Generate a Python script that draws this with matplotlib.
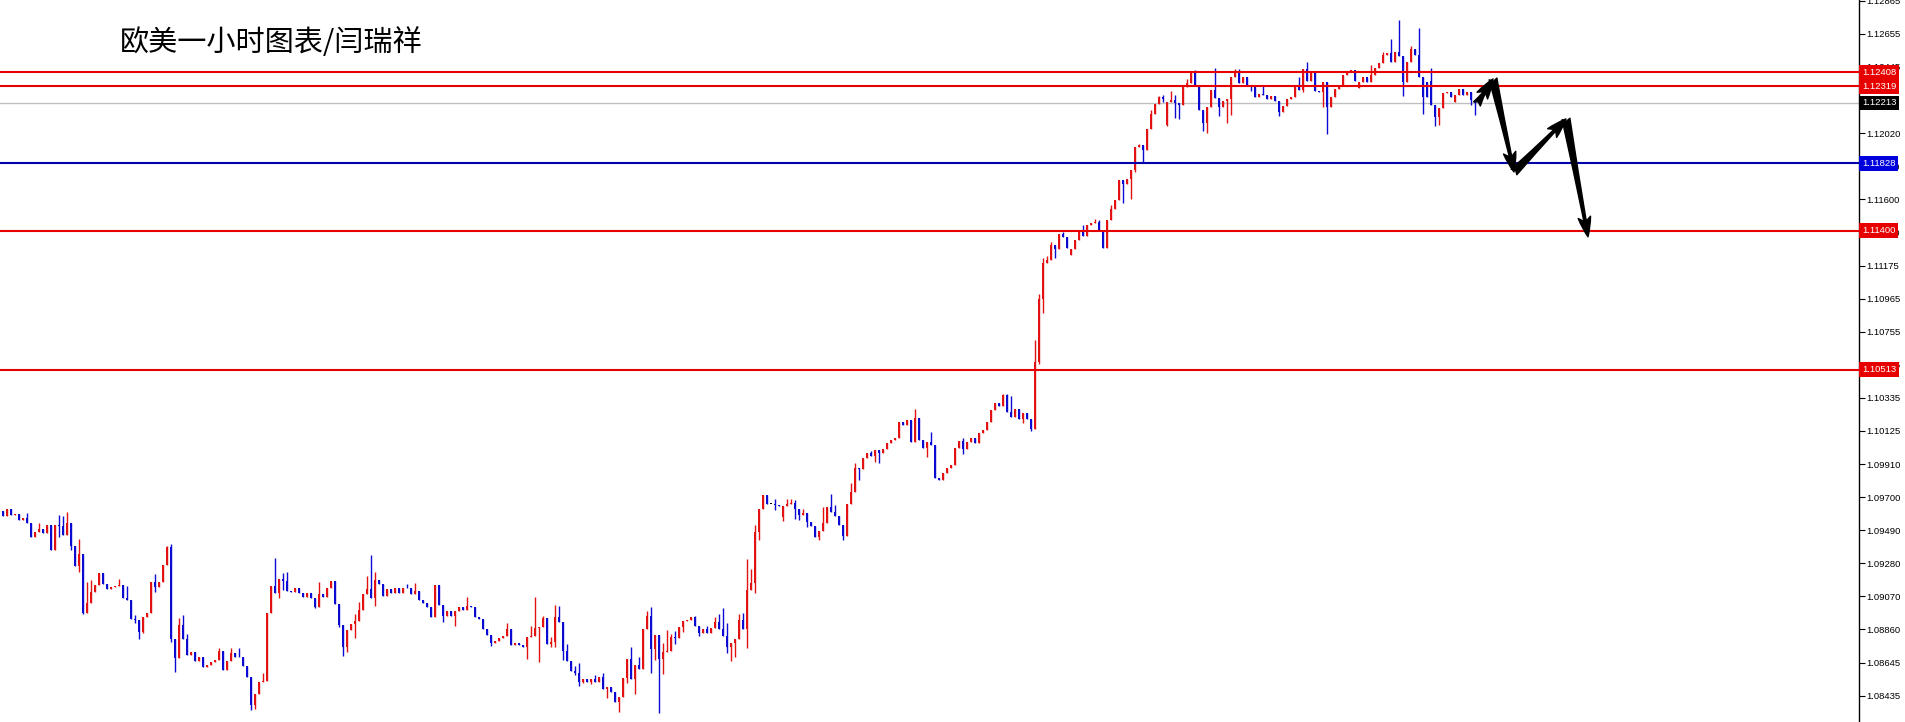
import numpy as np
import matplotlib
matplotlib.use('Agg')
import matplotlib.pyplot as plt

plt.rcParams['font.family'] = ['Noto Sans CJK SC', 'DejaVu Sans']

title = '欧美一小时图表/闫瑞祥'

# EURUSD H1 closes (oldest first)
first_open = 1.09614
closes = [
    1.09580, 1.09625, 1.09587, 1.09591, 1.09555, 1.09570, 1.09533, 1.09448, 1.09480, 1.09495,
    1.09474, 1.09525, 1.09364, 1.09523, 1.09516, 1.09459, 1.09534, 1.09389, 1.09262, 1.09338,
    1.08964, 1.09024, 1.09098, 1.09140, 1.09219, 1.09147, 1.09113, 1.09126, 1.09134, 1.09143,
    1.09060, 1.09045, 1.08922, 1.08917, 1.08843, 1.08934, 1.08964, 1.09162, 1.09126, 1.09162,
    1.09268, 1.09381, 1.08798, 1.08677, 1.08885, 1.08794, 1.08694, 1.08715, 1.08658, 1.08684,
    1.08620, 1.08633, 1.08652, 1.08662, 1.08718, 1.08599, 1.08654, 1.08709, 1.08684, 1.08680,
    1.08624, 1.08556, 1.08375, 1.08446, 1.08524, 1.08528, 1.08964, 1.09134, 1.09092, 1.09177,
    1.09169, 1.09105, 1.09099, 1.09120, 1.09092, 1.09063, 1.09092, 1.09060, 1.09003, 1.09084,
    1.09063, 1.09120, 1.09169, 1.09020, 1.08886, 1.08744, 1.08854, 1.08893, 1.08912, 1.08982,
    1.09084, 1.09113, 1.09056, 1.09173, 1.09145, 1.09073, 1.09113, 1.09088, 1.09124, 1.09088,
    1.09122, 1.09119, 1.09084, 1.09105, 1.09046, 1.09028, 1.08999, 1.08935, 1.09141, 1.09014,
    1.08944, 1.08978, 1.08944, 1.08978, 1.08999, 1.08982, 1.09007, 1.08999, 1.08935, 1.08922,
    1.08858, 1.08822, 1.08773, 1.08784, 1.08801, 1.08818, 1.08859, 1.08759, 1.08774, 1.08759,
    1.08748, 1.08808, 1.08818, 1.08865, 1.08871, 1.08929, 1.08765, 1.08779, 1.08939, 1.08907,
    1.08722, 1.08658, 1.08595, 1.08582, 1.08524, 1.08541, 1.08524, 1.08541, 1.08524, 1.08552,
    1.08478, 1.08488, 1.08457, 1.08393, 1.08425, 1.08546, 1.08667, 1.08541, 1.08631, 1.08605,
    1.08860, 1.08943, 1.08731, 1.08822, 1.08669, 1.08716, 1.08722, 1.08811, 1.08801, 1.08875,
    1.08913, 1.08920, 1.08935, 1.08881, 1.08837, 1.08860, 1.08837, 1.08865, 1.08907, 1.08858,
    1.08818, 1.08748, 1.08773, 1.08794, 1.08918, 1.08860, 1.09109, 1.09151, 1.09481, 1.09623,
    1.09714, 1.09657, 1.09657, 1.09651, 1.09644, 1.09644, 1.09657, 1.09666, 1.09623, 1.09587,
    1.09598, 1.09544, 1.09517, 1.09449, 1.09487, 1.09534, 1.09640, 1.09608, 1.09581, 1.09523,
    1.09455, 1.09657, 1.09736, 1.09884, 1.09878, 1.09948, 1.09980, 1.09963, 1.10001, 1.09984,
    1.10006, 1.10044, 1.10065, 1.10080, 1.10181, 1.10160, 1.10192, 1.10054, 1.10207, 1.10064,
    1.10011, 1.10054, 1.10032, 1.09826, 1.09809, 1.09856, 1.09884, 1.09905, 1.10015, 1.10060,
    1.10005, 1.10054, 1.10075, 1.10043, 1.10107, 1.10128, 1.10181, 1.10256, 1.10304, 1.10281,
    1.10351, 1.10245, 1.10213, 1.10260, 1.10202, 1.10234, 1.10202, 1.10132, 1.10564, 1.10961,
    1.11195, 1.11210, 1.11308, 1.11281, 1.11378, 1.11357, 1.11287, 1.11281, 1.11340, 1.11400,
    1.11366, 1.11436, 1.11451, 1.11457, 1.11400, 1.11287, 1.11467, 1.11536, 1.11595, 1.11723,
    1.11697, 1.11727, 1.11786, 1.11931, 1.11946, 1.11910, 1.12046, 1.12143, 1.12207, 1.12250,
    1.12237, 1.12222, 1.12233, 1.12211, 1.12200, 1.12313, 1.12343, 1.12407, 1.12318, 1.12169,
    1.12084, 1.12190, 1.12296, 1.12243, 1.12186, 1.12228, 1.12237, 1.12377, 1.12413, 1.12339,
    1.12377, 1.12322, 1.12312, 1.12250, 1.12271, 1.12264, 1.12237, 1.12258, 1.12228, 1.12158,
    1.12194, 1.12241, 1.12249, 1.12317, 1.12296, 1.12428, 1.12356, 1.12419, 1.12290, 1.12285,
    1.12349, 1.12190, 1.12249, 1.12300, 1.12328, 1.12392, 1.12413, 1.12424, 1.12353, 1.12349,
    1.12381, 1.12349, 1.12392, 1.12434, 1.12466, 1.12519, 1.12530, 1.12477, 1.12540, 1.12513,
    1.12349, 1.12477, 1.12555, 1.12519, 1.12381, 1.12249, 1.12253, 1.12200, 1.12126, 1.12179,
    1.12275, 1.12285, 1.12253, 1.12264, 1.12300, 1.12264, 1.12285, 1.12232, 1.12213,
]

# bars whose open is not the previous close
gap_opens = {195: 1.09572, 267: 1.11245, 291: 1.12073, 339: 1.12306,
             356: 1.12349, 357: 1.12355, 363: 1.12222}

# visible wicks
highs = {6: 1.09602, 9: 1.09534, 14: 1.09587, 15: 1.09580, 16: 1.09608, 19: 1.09431,
         21: 1.09162, 22: 1.09172, 29: 1.09177, 31: 1.09134, 33: 1.08949, 38: 1.09210,
         41: 1.09391, 42: 1.09400, 44: 1.08928, 45: 1.08953, 46: 1.08826, 54: 1.08737,
         57: 1.08741, 59: 1.08737, 65: 1.08582, 68: 1.09310, 70: 1.09216, 71: 1.09222,
         79: 1.09162, 88: 1.08956, 89: 1.09035, 91: 1.09199, 92: 1.09332, 93: 1.09222,
         101: 1.09145, 103: 1.09156, 116: 1.09067, 126: 1.08897, 132: 1.08880, 133: 1.09067,
         135: 1.08944, 137: 1.08811, 138: 1.09013, 139: 1.09007, 141: 1.08765, 143: 1.08626,
         144: 1.08646, 148: 1.08567, 150: 1.08578, 157: 1.08748, 159: 1.08684, 161: 1.08975,
         162: 1.09003, 165: 1.08769, 166: 1.08854, 167: 1.08828, 168: 1.08847, 173: 1.08943,
         176: 1.08881, 178: 1.08939, 179: 1.08954, 180: 1.08996, 181: 1.08901, 184: 1.08954,
         185: 1.08960, 186: 1.09304, 187: 1.09241, 188: 1.09523, 193: 1.09687, 196: 1.09687,
         197: 1.09687, 198: 1.09683, 200: 1.09623, 205: 1.09640, 207: 1.09721, 208: 1.09651,
         212: 1.09789, 213: 1.09916, 217: 1.09997, 228: 1.10262, 232: 1.10117, 240: 1.10075,
         250: 1.10358, 251: 1.10358, 252: 1.10347, 258: 1.10702, 259: 1.10995, 260: 1.11222,
         261: 1.11237, 262: 1.11329, 265: 1.11393, 270: 1.11436, 273: 1.11472, 274: 1.11468,
         277: 1.11563, 284: 1.11952, 287: 1.12169, 289: 1.12258, 290: 1.12264, 292: 1.12286,
         293: 1.12264, 296: 1.12364, 297: 1.12413, 298: 1.12420, 303: 1.12434, 308: 1.12428,
         309: 1.12428, 315: 1.12318, 324: 1.12381, 326: 1.12477, 342: 1.12455, 345: 1.12540,
         347: 1.12619, 349: 1.12742, 352: 1.12576, 354: 1.12689, 357: 1.12434}
lows = {14: 1.09448, 17: 1.09364, 19: 1.09225, 20: 1.08956, 21: 1.08960, 33: 1.08896,
        34: 1.08800, 35: 1.08832, 38: 1.09098, 42: 1.08779, 43: 1.08588, 62: 1.08344,
        63: 1.08348, 69: 1.09056, 70: 1.09109, 78: 1.08992, 84: 1.08871, 85: 1.08691,
        86: 1.08716, 88: 1.08801, 93: 1.09007, 110: 1.08907, 113: 1.08882, 122: 1.08752,
        131: 1.08667, 134: 1.08652, 137: 1.08748, 138: 1.08748, 140: 1.08663, 143: 1.08567,
        144: 1.08497, 145: 1.08514, 147: 1.08510, 151: 1.08418, 154: 1.08329, 156: 1.08514,
        158: 1.08444, 162: 1.08578, 163: 1.08663, 164: 1.08327, 165: 1.08571, 168: 1.08762,
        170: 1.08839, 174: 1.08816, 181: 1.08705, 182: 1.08658, 183: 1.08684, 186: 1.08737,
        188: 1.09088, 189: 1.09428, 193: 1.09619, 195: 1.09551, 198: 1.09559, 199: 1.09555,
        201: 1.09513, 204: 1.09428, 210: 1.09428, 214: 1.09810, 218: 1.09926, 219: 1.09921,
        231: 1.09958, 240: 1.09973, 255: 1.10171, 257: 1.10124, 259: 1.10549, 260: 1.10872,
        263: 1.11223, 280: 1.11578, 282: 1.11599, 283: 1.11776, 285: 1.11839, 290: 1.12222,
        291: 1.12063, 293: 1.12116, 294: 1.12111, 300: 1.12037, 301: 1.12024, 304: 1.12130,
        306: 1.12084, 307: 1.12137, 312: 1.12292, 319: 1.12130, 325: 1.12285, 330: 1.12190,
        331: 1.12016, 350: 1.12258, 355: 1.12143, 358: 1.12066, 359: 1.12073, 367: 1.12200,
        368: 1.12137}

# horizontal levels
levels = [1.12408, 1.12319, 1.11400, 1.10513]
level_blue = 1.11828
last_price = 1.12213

yticks = [1.12865, 1.12655, 1.12445, 1.12235, 1.12020, 1.11810, 1.11600, 1.11390,
          1.11175, 1.10965, 1.10755, 1.10545, 1.10335, 1.10125, 1.09910, 1.09700,
          1.09490, 1.09280, 1.09070, 1.08860, 1.08645, 1.08435]
# labels that sit completely under a price box are not shown
hidden_ticks = [1.12235]

# projected path drawn with arrows (bar index, price)
path_x = [368.5, 372.5, 377.75, 390.75, 396.25]
path_y = [1.12207, 1.12366, 1.11773, 1.12111, 1.11360]

# ---------------------------------------------------------------
c = np.array(closes)
o = np.r_[first_open, c[:-1]]
for k, v in gap_opens.items():
    o[k] = v
x = np.arange(len(c))
hi = np.maximum(o, c)
lo = np.minimum(o, c)
for k, v in highs.items():
    hi[k] = max(hi[k], v)
for k, v in lows.items():
    lo[k] = min(lo[k], v)

RED = '#e31212'
BLUE = '#0a0ad2'
col = np.where(c > o, RED, np.where(c < o, BLUE, 'black'))

fig = plt.figure(figsize=(19.06, 7.22), dpi=100)
ax = fig.add_axes([0, 0, 1859 / 1906, 1])

ax.vlines(x, lo, hi, colors=col, linewidth=1.0, zorder=2)
ax.bar(x, np.maximum(np.abs(c - o), 0.00004), bottom=np.minimum(o, c),
       width=0.72, color=col, linewidth=0, zorder=3)

ax.axhline(last_price, color='#c0c0c0', linewidth=1.0, zorder=1)
for lv in levels:
    ax.axhline(lv, color='#e60000', linewidth=1.5, zorder=4)
ax.axhline(level_blue, color='#0000aa', linewidth=1.5, zorder=4)

for a in range(len(path_x) - 1):
    ax.annotate('', xy=(path_x[a + 1], path_y[a + 1]), xytext=(path_x[a], path_y[a]),
                arrowprops=dict(arrowstyle='fancy,head_length=0.95,head_width=0.6,tail_width=0.38',
                                color='black', shrinkA=0, shrinkB=0, mutation_scale=15),
                zorder=6)

ax.set_xlim(-0.75, 464)
ax.set_ylim(1.08268, 1.12869)

lab_font = 'Liberation Sans'
ax.yaxis.tick_right()
ax.set_yticks(yticks)
ax.set_yticklabels(['' if t in hidden_ticks else '%.5f' % t for t in yticks])
ax.tick_params(axis='y', direction='out', length=4, width=0.8, pad=1.5,
               labelsize=6.8, colors='black')
for lab in ax.get_yticklabels():
    lab.set_family(lab_font)
ax.set_xticks([])
for s in ['top', 'left', 'bottom']:
    ax.spines[s].set_visible(False)
ax.spines['right'].set_linewidth(1.0)

tr = ax.get_yaxis_transform()
boxes = [(1.12408, '#e60000'), (1.12319, '#e60000'), (last_price, 'black'),
         (level_blue, '#0000dd'), (1.11400, '#e60000'), (1.10513, '#e60000')]
for val, fc in boxes:
    ax.text(1.0016, val, '%.5f' % val, transform=tr, ha='left', va='center',
            fontsize=6.8, color='white', family=lab_font, clip_on=False, zorder=10,
            bbox=dict(boxstyle='square,pad=0.3', fc=fc, ec='none'))

fig.text(120 / 1906, 1 - 43 / 722, title, fontsize=21, va='center', ha='left')

fig.savefig('out.png', dpi=100)
